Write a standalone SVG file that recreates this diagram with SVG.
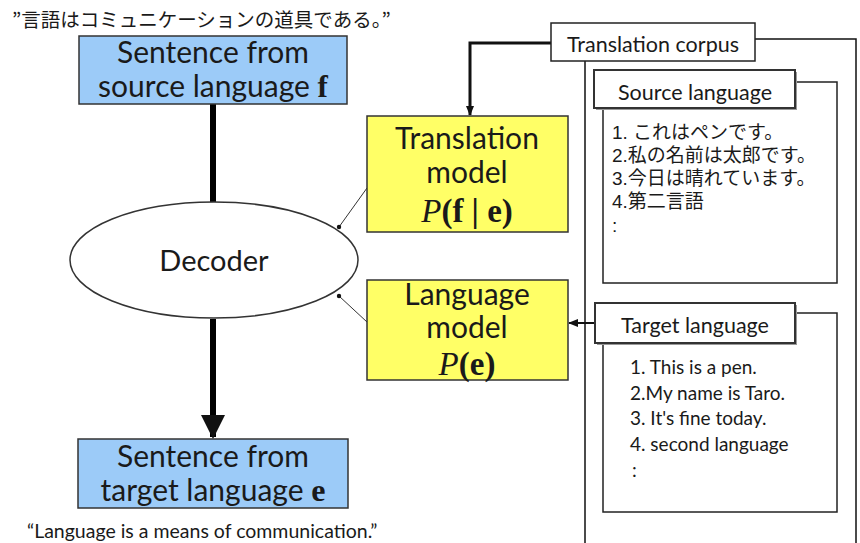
<svg xmlns="http://www.w3.org/2000/svg" width="860" height="543" viewBox="0 0 860 543">
<defs>
<style>
.t{font-family:Lato,"Open Sans","Noto Sans CJK JP",sans-serif;fill:#1a1a1a}
.big{font-size:30px}
.jp{font-family:"Noto Sans CJK JP",sans-serif;fill:#1a1a1a}
.jpl{font-family:"Liberation Sans","Noto Sans CJK JP",sans-serif;fill:#1a1a1a}
.math{font-family:"Liberation Serif",serif;fill:#1a1a1a}
.blue{fill:#9ccbf8;stroke:#333;stroke-width:1.5}
.yel{fill:#ffff66;stroke:#333;stroke-width:1.5}
.box{fill:#fff;stroke:#222;stroke-width:1.5}
.lab{fill:#fff;stroke:#333;stroke-width:2}
.thin{fill:none;stroke:#333;stroke-width:1}
</style>
<marker id="big" markerUnits="userSpaceOnUse" markerWidth="24" markerHeight="32" refX="22" refY="12" orient="auto" viewBox="0 0 24 24"><path d="M0,0 L24,12 L0,24 Z" fill="#111"/></marker>
<marker id="sm" markerUnits="userSpaceOnUse" markerWidth="10" markerHeight="10" refX="9" refY="5" orient="auto" viewBox="0 0 10 10"><path d="M0,1 L10,5 L0,9 Z" fill="#111"/></marker>
<marker id="dot" markerUnits="userSpaceOnUse" markerWidth="6" markerHeight="6" refX="3" refY="3" viewBox="0 0 6 6"><circle cx="3" cy="3" r="2.2" fill="#111"/></marker>
</defs>
<rect width="860" height="543" fill="#fff"/>

<g id="corpus-frame">
<path d="M755,39 H856 V543 M585,61 V543" fill="none" stroke="#111" stroke-width="1.5"/>
</g>

<g id="connectors">
<line x1="213" y1="104" x2="213" y2="202" stroke="#000" stroke-width="6"/>
<line x1="213" y1="319" x2="213" y2="437" stroke="#000" stroke-width="6" marker-end="url(#big)"/>
<path d="M551,43 H470 V115" fill="none" stroke="#111" stroke-width="3" marker-end="url(#sm)"/>
<line x1="595" y1="323" x2="569" y2="323" stroke="#111" stroke-width="2" marker-end="url(#sm)"/>
<line x1="367" y1="188" x2="339" y2="227" class="thin" marker-end="url(#dot)"/>
<line x1="367" y1="322" x2="339" y2="296" class="thin" marker-end="url(#dot)"/>
</g>

<g id="quote-jp">
<text x="12" y="27" class="jp" font-size="19.5">”言語はコミュニケーションの道具である。”</text>
</g>

<g id="source-sentence">
<rect x="79" y="36" width="268" height="68" class="blue"/>
<text x="213" y="63" class="t big" text-anchor="middle">Sentence from</text>
<text x="213" y="97" class="t big" text-anchor="middle">source language <tspan class="math" font-weight="bold" font-size="31">f</tspan></text>
</g>

<g id="decoder">
<ellipse cx="214" cy="260" rx="144" ry="58" fill="#fff" stroke="#333" stroke-width="1.5"/>
<text x="214" y="271" class="t" font-size="29" text-anchor="middle">Decoder</text>
</g>

<g id="target-sentence">
<rect x="78" y="439" width="270" height="69" class="blue"/>
<text x="213" y="467" class="t big" text-anchor="middle">Sentence from</text>
<text x="213" y="501" class="t big" text-anchor="middle">target language <tspan class="math" font-weight="bold" font-size="32">e</tspan></text>
</g>

<g id="quote-en">
<text x="27" y="538" class="t" font-size="19.5">“Language is a means of communication.”</text>
</g>

<g id="translation-model">
<rect x="367" y="116" width="201" height="116" class="yel"/>
<text x="467" y="149" class="t" font-size="30" text-anchor="middle">Translation</text>
<text x="467" y="183" class="t" font-size="30" text-anchor="middle">model</text>
<text x="467" y="222" class="math" font-size="33" text-anchor="middle"><tspan font-style="italic">P</tspan><tspan font-weight="bold">(f | e)</tspan></text>
</g>

<g id="language-model">
<rect x="367" y="280" width="201" height="100" class="yel"/>
<text x="467" y="305" class="t" font-size="30" text-anchor="middle">Language</text>
<text x="467" y="338" class="t" font-size="30" text-anchor="middle">model</text>
<text x="467" y="375" class="math" font-size="33" text-anchor="middle"><tspan font-style="italic">P</tspan><tspan font-weight="bold">(e)</tspan></text>
</g>

<g id="translation-corpus">
<rect x="551" y="23" width="204" height="38" class="box"/>
<text x="653" y="52" class="t" font-size="21.5" text-anchor="middle">Translation corpus</text>
</g>

<g id="source-language">
<rect x="603" y="82" width="234" height="201" class="box"/>
<rect x="596" y="72" width="201" height="38" fill="#999"/>
<rect x="594" y="70" width="201" height="38" class="lab"/>
<text x="695" y="100" class="t" font-size="21.5" text-anchor="middle">Source language</text>
<text class="jpl" font-size="19">
<tspan x="612" y="139">1. これはペンです。</tspan>
<tspan x="612" y="162">2.私の名前は太郎です。</tspan>
<tspan x="612" y="185">3.今日は晴れています。</tspan>
<tspan x="612" y="208">4.第二言語</tspan>
<tspan x="612" y="232">:</tspan>
</text>
</g>

<g id="target-language">
<rect x="603" y="313" width="234" height="199" class="box"/>
<rect x="597" y="305" width="200" height="40" fill="#999"/>
<rect x="595" y="303" width="200" height="40" class="lab"/>
<text x="695" y="333" class="t" font-size="21.5" text-anchor="middle">Target language</text>
<text class="t" font-size="19">
<tspan x="630" y="374">1. This is a pen.</tspan>
<tspan x="630" y="400">2.My name is Taro.</tspan>
<tspan x="630" y="425">3. It's fine today.</tspan>
<tspan x="630" y="451">4. second language</tspan>
<tspan x="632" y="477">:</tspan>
</text>
</g>
</svg>
